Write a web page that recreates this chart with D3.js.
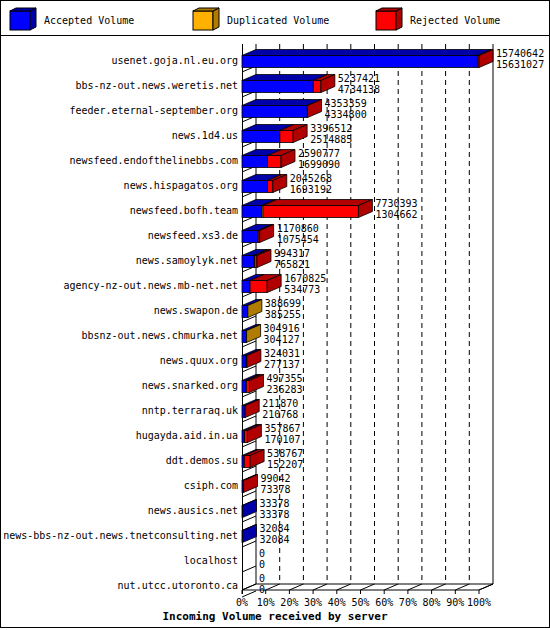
<!DOCTYPE html>
<html><head><meta charset="utf-8">
<script src="https://cdn.jsdelivr.net/npm/d3@7"></script>
<style>body{margin:0;background:#fff}text{font-family:"DejaVu Sans Mono",monospace;font-size:10px}</style>
</head><body>
<script>
var servers = ["usenet.goja.nl.eu.org", "bbs-nz-out.news.weretis.net", "feeder.eternal-september.org",
  "news.1d4.us", "newsfeed.endofthelinebbs.com", "news.hispagatos.org", "newsfeed.bofh.team",
  "newsfeed.xs3.de", "news.samoylyk.net", "agency-nz-out.news.mb-net.net", "news.swapon.de",
  "bbsnz-out.news.chmurka.net", "news.quux.org", "news.snarked.org", "nntp.terraraq.uk",
  "hugayda.aid.in.ua", "ddt.demos.su", "csiph.com", "news.ausics.net",
  "news-bbs-nz-out.news.tnetconsulting.net", "localhost", "nut.utcc.utoronto.ca"];
var totalVolume = [15740642, 5237421, 4353359, 3396512, 2590777, 2045268, 7730393, 1170860, 994317,
  1670825, 388699, 304916, 324031, 497355, 211870, 357867, 538767, 99042, 33378, 32084, 0, 0];
var acceptedVolume = [15631027, 4734138, 4334800, 2514885, 1699090, 1693192, 1304662, 1075454, 765821,
  534773, 385255, 304127, 277137, 236283, 210768, 170107, 152207, 73378, 33378, 32084, 0, 0];
var duplicatedVolume = [0, 0, 0, 0, 0, 0, 90000, 0, 60000, 0, 3444, 789, 0, 50000, 0, 0, 0, 0, 0, 0, 0, 0];
var tickLabels = ["0%", "10%", "20%", "30%", "40%", "50%", "60%", "70%", "80%", "90%", "100%"];

var colors = {acc: ["#0000ff", "#0000a8"], dup: ["#ffb000", "#b07c00"], rej: ["#ff0000", "#b00000"]};
var W = 550, H = 630, dx = 14, dy = 6;
var svg = d3.select("body").append("svg").attr("width", W).attr("height", H);
svg.append("rect").attr("x", 0.5).attr("y", 0.5).attr("width", W - 1).attr("height", H - 3)
  .attr("fill", "#fff").attr("stroke", "#000");
svg.append("line").attr("x1", 0).attr("x2", W).attr("y1", 35.5).attr("y2", 35.5).attr("stroke", "#000");

function box(g, x, y, w, h, c) {
  g.append("path").attr("d", "M" + x + "," + y + "l" + dx + "," + (-dy) + "h" + w + "l" + (-dx) + "," + dy + "z")
    .attr("fill", c[1]).attr("stroke", "#000").attr("stroke-width", 0.8);
  g.append("rect").attr("x", x).attr("y", y).attr("width", w).attr("height", h)
    .attr("fill", c[0]).attr("stroke", "#000").attr("stroke-width", 0.8);
}
function cap(g, x, y, h, c) {
  g.append("path").attr("d", "M" + x + "," + y + "l" + dx + "," + (-dy) + "v" + h + "l" + (-dx) + "," + dy + "z")
    .attr("fill", c[1]).attr("stroke", "#000").attr("stroke-width", 0.8);
}

// legend
[["Accepted Volume", colors.acc, 10], ["Duplicated Volume", colors.dup, 193], ["Rejected Volume", colors.rej, 376]]
  .forEach(function (d) {
    var g = svg.append("g");
    g.append("rect").attr("x", d[2]).attr("y", 11).attr("width", 20).attr("height", 19).attr("fill", d[1][0]).attr("stroke", "#000");
    g.append("path").attr("d", "M" + (d[2] + 20) + ",11l6,-3v19l-6,3z").attr("fill", d[1][1]).attr("stroke", "#000");
    g.append("path").attr("d", "M" + d[2] + ",11l6,-3h20l-6,3z").attr("fill", d[1][1]).attr("stroke", "#000");
    g.append("text").attr("x", d[2] + 34).attr("y", 24).text(d[0]);
  });

var x = d3.scaleLinear().domain([0, d3.max(totalVolume)]).range([242, 479]);
var pct = d3.scaleLinear().domain([0, 100]).range([242, 479]);
var y = d3.scaleBand().domain(servers).range([47, 597]);
var yTop = 44, yBot = 590;

// back grid
pct.ticks(10).forEach(function (p) {
  svg.append("line").attr("x1", pct(p) + dx).attr("x2", pct(p) + dx).attr("y1", yTop).attr("y2", yBot - dy)
    .attr("stroke", "#000").attr("stroke-dasharray", (p === 0 || p === 100) ? null : "5,4");
});
// floor & axes
svg.append("path").attr("d", "M242," + yBot + "L" + (479) + "," + yBot + "L" + (479 + dx) + "," + (yBot - dy) + "L" + (242 + dx) + "," + (yBot - dy) + "Z")
  .attr("fill", "none").attr("stroke", "#000");
svg.append("line").attr("x1", 242.5).attr("x2", 242.5).attr("y1", yTop).attr("y2", yBot + 4).attr("stroke", "#000");
pct.ticks(10).forEach(function (p, i) {
  svg.append("line").attr("x1", pct(p)).attr("x2", pct(p)).attr("y1", yBot).attr("y2", yBot + 4).attr("stroke", "#000");
  svg.append("line").attr("x1", pct(p)).attr("x2", pct(p) + dx).attr("y1", yBot).attr("y2", yBot - dy).attr("stroke", "#000");
  svg.append("text").attr("x", pct(p)).attr("y", yBot + 16).attr("text-anchor", "middle").text(tickLabels[i]);
});
svg.append("text").attr("x", 275).attr("y", 620).attr("text-anchor", "middle")
  .style("font-weight", "bold").style("font-size", "11px").text("Incoming Volume received by server");

servers.forEach(function (s, i) {
  var g = svg.append("g");
  var yc = y(s) + y.bandwidth() / 2, by = yc - 4, bh = 12;
  g.append("line").attr("x1", 242).attr("x2", 242 + dx).attr("y1", y(s) + y.bandwidth()).attr("y2", y(s) + y.bandwidth() - dy).attr("stroke", "#000");
  g.append("text").attr("x", 238).attr("y", yc + 4).attr("text-anchor", "end").text(s);
  var acc = acceptedVolume[i], dup = duplicatedVolume[i], rej = totalVolume[i] - acc - dup;
  var segs = [[acc, colors.acc], [dup, colors.dup], [rej, colors.rej]];
  var cum = 0, last = null;
  segs.forEach(function (sg) {
    if (sg[0] <= 0) return;
    box(g, x(cum), by, x(cum + sg[0]) - x(cum), bh, sg[1]);
    cum += sg[0]; last = sg[1];
  });
  if (last) cap(g, x(cum), by, bh, last);
  var tx = x(cum) + dx + 3;
  g.append("text").attr("x", tx).attr("y", yc - 3).text(totalVolume[i]);
  g.append("text").attr("x", tx).attr("y", yc + 8).text(acc);
});
</script>
</body></html>
